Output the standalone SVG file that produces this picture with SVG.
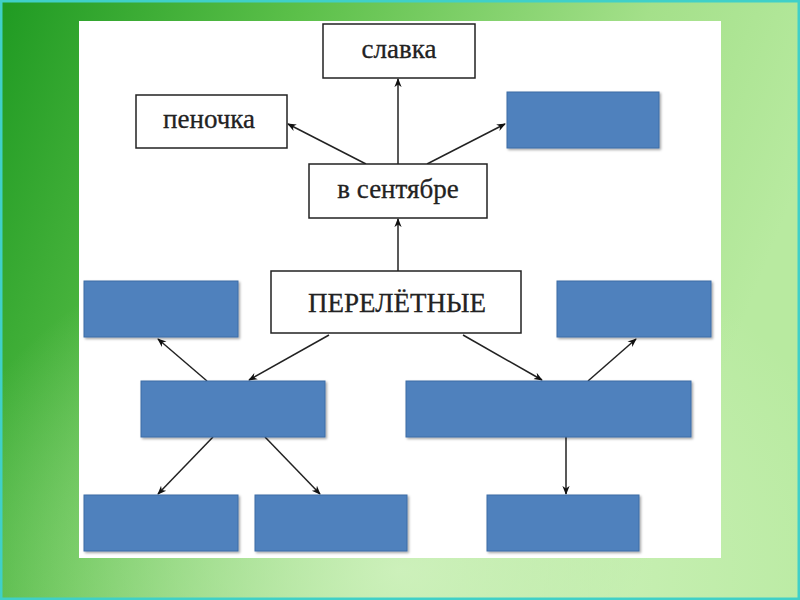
<svg xmlns="http://www.w3.org/2000/svg" width="800" height="600" viewBox="0 0 800 600">
<defs>
<linearGradient id="bg" x1="0" y1="0" x2="1" y2="0.3">
<stop offset="0" stop-color="#1f9a22"/>
<stop offset="0.35" stop-color="#5cc04a"/>
<stop offset="0.75" stop-color="#a4e08a"/>
<stop offset="1" stop-color="#b8eaa0"/>
</linearGradient>
<radialGradient id="glow" cx="0.5" cy="0.95" r="0.6">
<stop offset="0" stop-color="#d8f5c8" stop-opacity="0.8"/>
<stop offset="1" stop-color="#d8f5c8" stop-opacity="0"/>
</radialGradient>
<marker id="ah" viewBox="0 0 10 10" refX="9" refY="5" markerWidth="9" markerHeight="9" markerUnits="userSpaceOnUse" orient="auto">
<path d="M0,1 L10,5 L0,9 L3,5 Z" fill="#111"/>
</marker>
<filter id="sh" x="-5%" y="-5%" width="115%" height="120%">
<feDropShadow dx="1.5" dy="1.5" stdDeviation="0.8" flood-color="#000" flood-opacity="0.35"/>
</filter>
</defs>
<style>
.w{fill:#fff;stroke:#222;stroke-width:1.5}
.b{fill:#4f81bd;stroke:#3d6da6;stroke-width:1;filter:url(#sh)}
.t{font-family:"Liberation Serif","DejaVu Serif",serif;font-size:27px;fill:#222;stroke:#222;stroke-width:0.3;text-anchor:middle;dominant-baseline:central}
.c line{stroke:#222;stroke-width:1.5;marker-end:url(#ah)}
</style>
<rect width="800" height="600" fill="url(#bg)"/>
<rect width="800" height="600" fill="url(#glow)"/>
<rect x="1" y="1" width="798" height="598" fill="none" stroke="#40d0c8" stroke-width="3"/>
<rect x="79" y="21" width="642" height="537" fill="#fff"/>
<g class="c">
<line x1="398" y1="164" x2="398" y2="79"/>
<line x1="366" y1="164" x2="288" y2="124"/>
<line x1="427" y1="164" x2="505" y2="124"/>
<line x1="398" y1="271" x2="398" y2="219"/>
<line x1="329" y1="335" x2="249" y2="380"/>
<line x1="207" y1="381" x2="158" y2="339"/>
<line x1="463" y1="335" x2="542" y2="380"/>
<line x1="588" y1="381" x2="636" y2="339"/>
<line x1="213" y1="437" x2="158" y2="494"/>
<line x1="265" y1="437" x2="320" y2="494"/>
<line x1="566" y1="437" x2="566" y2="494"/>
</g>
<g id="slavka"><rect class="w" x="323" y="24" width="152" height="54"/><text class="t" x="399" y="49">славка</text></g>
<g id="penochka"><rect class="w" x="136" y="95" width="151" height="53"/><text class="t" x="209" y="119">пеночка</text></g>
<g id="blue-top"><rect class="b" x="507" y="92" width="152" height="56"/></g>
<g id="sentyabr"><rect class="w" x="309" y="164" width="178" height="54"/><text class="t" x="398" y="189">в сентябре</text></g>
<g id="pereletnye"><rect class="w" x="271" y="271" width="250" height="62"/><text class="t" x="397" y="303" font-size="29">ПЕРЕЛЁТНЫЕ</text></g>
<g id="blue-l1"><rect class="b" x="84" y="281" width="154" height="56"/></g>
<g id="blue-r1"><rect class="b" x="557" y="281" width="154" height="56"/></g>
<g id="blue-l2"><rect class="b" x="141" y="381" width="184" height="56"/></g>
<g id="blue-r2"><rect class="b" x="406" y="381" width="285" height="56"/></g>
<g id="blue-b1"><rect class="b" x="84" y="495" width="154" height="56"/></g>
<g id="blue-b2"><rect class="b" x="255" y="495" width="152" height="56"/></g>
<g id="blue-b3"><rect class="b" x="487" y="495" width="152" height="56"/></g>
</svg>
